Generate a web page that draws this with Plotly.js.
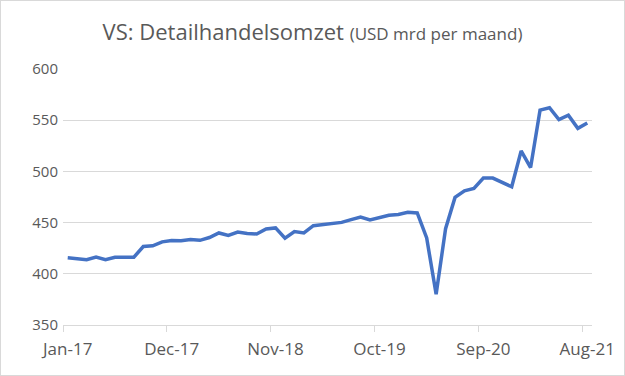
<!DOCTYPE html>
<html>
<head>
<meta charset="utf-8">
<script src="https://cdn.plot.ly/plotly-3.0.1.min.js"></script>
<style>
  html, body { margin: 0; padding: 0; background: #ffffff; }
  #wrap { position: relative; width: 625px; height: 376px; }
  #chart { width: 625px; height: 376px; }
  #frame { position: absolute; left: 0; top: 0; width: 625px; height: 376px; box-sizing: border-box; border: 1px solid #d9d9d9; pointer-events: none; }
</style>
</head>
<body>
<div id="wrap"><div id="chart"></div><div id="frame"></div></div>
<script>
const months = [
  "Jan-17","Feb-17","Mar-17","Apr-17","May-17","Jun-17","Jul-17","Aug-17","Sep-17","Oct-17","Nov-17","Dec-17",
  "Jan-18","Feb-18","Mar-18","Apr-18","May-18","Jun-18","Jul-18","Aug-18","Sep-18","Oct-18","Nov-18","Dec-18",
  "Jan-19","Feb-19","Mar-19","Apr-19","May-19","Jun-19","Jul-19","Aug-19","Sep-19","Oct-19","Nov-19","Dec-19",
  "Jan-20","Feb-20","Mar-20","Apr-20","May-20","Jun-20","Jul-20","Aug-20","Sep-20","Oct-20","Nov-20","Dec-20",
  "Jan-21","Feb-21","Mar-21","Apr-21","May-21","Jun-21","Jul-21","Aug-21"
];
const retailSales = [
  415.6, 414.6, 413.8, 416.3, 413.8, 416.2, 416.2, 416.2, 426.6, 427.3, 431.2, 432.5,
  432.2, 433.5, 432.7, 435.4, 439.9, 437.5, 440.7, 439.3, 438.9, 443.8, 444.8, 434.7,
  441.2, 439.9, 447.0, 448.0, 448.7, 450.2, 452.9, 455.5, 452.6, 455.1, 457.1, 458.0,
  460.0, 459.4, 435.0, 380.0, 444.0, 474.6, 481.1, 483.4, 493.5, 493.5, 489.2, 485.0,
  520.0, 503.8, 559.8, 562.2, 550.5, 554.8, 542.0, 547.3
];
const yTicks = [350, 400, 450, 500, 550, 600];

const trace = {
  type: "scatter",
  mode: "lines",
  x: months,
  y: retailSales,
  line: { color: "#4472C4", width: 3.5 },
  hoverinfo: "x+y"
};

const layout = {
  width: 625,
  height: 376,
  margin: { l: 62.5, r: 33, t: 69, b: 51, pad: 0 },
  paper_bgcolor: "#ffffff",
  plot_bgcolor: "#ffffff",
  showlegend: false,
  font: { family: "Open Sans, sans-serif", color: "#595959" },
  title: {
    text: 'VS: Detailhandelsomzet <span style="font-size:17px">(USD mrd per maand)</span>',
    font: { family: "Open Sans, sans-serif", size: 22, color: "#595959" },
    x: 0.5, xanchor: "center",
    y: 0.915, yanchor: "middle"
  },
  xaxis: {
    type: "category",
    range: [-0.5, 55.5],
    tickmode: "linear",
    tick0: 0,
    dtick: 11,
    tickson: "boundaries",
    tickangle: 0,
    ticks: "outside",
    ticklen: 6,
    tickcolor: "#d9d9d9",
    tickwidth: 1,
    ticklabelstandoff: 9,
    showline: true,
    linecolor: "#d9d9d9",
    linewidth: 1,
    showgrid: false,
    zeroline: false,
    tickfont: { size: 17, color: "#595959" },
    fixedrange: true
  },
  yaxis: {
    range: [350, 600],
    tickmode: "array",
    tickvals: yTicks,
    ticktext: yTicks.map(String),
    ticks: "",
    ticklabelstandoff: 4,
    showgrid: true,
    gridcolor: "#d9d9d9",
    gridwidth: 1,
    showline: false,
    zeroline: false,
    tickfont: { size: 15, color: "#595959" },
    fixedrange: true
  }
};

Plotly.newPlot("chart", [trace], layout, { displayModeBar: false, staticPlot: true });
</script>
</body>
</html>
